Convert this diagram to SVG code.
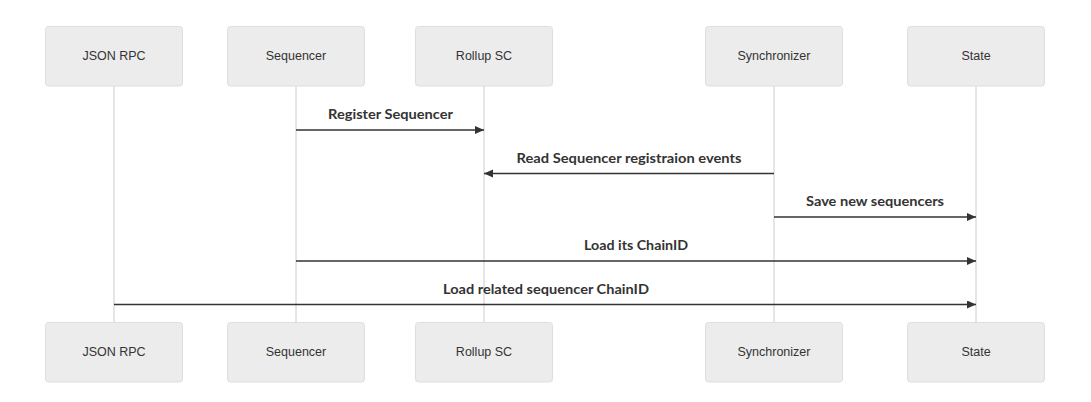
<svg xmlns="http://www.w3.org/2000/svg" width="1091" height="402" viewBox="0 0 1091 402">
<style>
.actor{fill:#ECECEC;stroke:#DEDEDE;stroke-width:1}
.alabel{font-family:"Liberation Sans",Arial,sans-serif;font-size:12.5px;fill:#333;text-anchor:middle;dominant-baseline:central}
.life{stroke:#CCCCCC;stroke-width:1}
.msg{stroke:#333;stroke-width:1.5;fill:none}
.mtext{font-family:Lato,"DejaVu Sans",sans-serif;font-weight:700;font-size:14px;fill:#333;text-anchor:middle}
</style>
<defs>
<marker id="ah" markerUnits="userSpaceOnUse" markerWidth="10" markerHeight="10" refX="9" refY="4" orient="auto">
<path d="M0,0 L9,4 L0,8 z" fill="#333"/>
</marker>
</defs>
<rect width="1091" height="402" fill="#FFFFFF"/>
<g id="lifelines">
<line class="life" x1="114" y1="86" x2="114" y2="322.5"/>
<line class="life" x1="296" y1="86" x2="296" y2="322.5"/>
<line class="life" x1="484" y1="86" x2="484" y2="322.5"/>
<line class="life" x1="774" y1="86" x2="774" y2="322.5"/>
<line class="life" x1="976" y1="86" x2="976" y2="322.5"/>
</g>
<g id="actor-jsonrpc">
<rect class="actor" x="45.5" y="26.5" width="137" height="59.5" rx="3"/>
<text class="alabel" x="114" y="56.3">JSON RPC</text>
<rect class="actor" x="45.5" y="322.5" width="137" height="59.5" rx="3"/>
<text class="alabel" x="114" y="352.3">JSON RPC</text>
</g>
<g id="actor-sequencer">
<rect class="actor" x="227.5" y="26.5" width="137" height="59.5" rx="3"/>
<text class="alabel" x="296" y="56.3">Sequencer</text>
<rect class="actor" x="227.5" y="322.5" width="137" height="59.5" rx="3"/>
<text class="alabel" x="296" y="352.3">Sequencer</text>
</g>
<g id="actor-rollupsc">
<rect class="actor" x="415.5" y="26.5" width="137" height="59.5" rx="3"/>
<text class="alabel" x="484" y="56.3">Rollup SC</text>
<rect class="actor" x="415.5" y="322.5" width="137" height="59.5" rx="3"/>
<text class="alabel" x="484" y="352.3">Rollup SC</text>
</g>
<g id="actor-synchronizer">
<rect class="actor" x="705.5" y="26.5" width="137" height="59.5" rx="3"/>
<text class="alabel" x="774" y="56.3">Synchronizer</text>
<rect class="actor" x="705.5" y="322.5" width="137" height="59.5" rx="3"/>
<text class="alabel" x="774" y="352.3">Synchronizer</text>
</g>
<g id="actor-state">
<rect class="actor" x="907.5" y="26.5" width="137" height="59.5" rx="3"/>
<text class="alabel" x="976" y="56.3">State</text>
<rect class="actor" x="907.5" y="322.5" width="137" height="59.5" rx="3"/>
<text class="alabel" x="976" y="352.3">State</text>
</g>
<g id="connectors">
<line class="msg" x1="296" y1="130" x2="484" y2="130" marker-end="url(#ah)"/>
<text class="mtext" x="390.5" y="119" textLength="125" lengthAdjust="spacingAndGlyphs">Register Sequencer</text>
<line class="msg" x1="774" y1="173.5" x2="484" y2="173.5" marker-end="url(#ah)"/>
<text class="mtext" x="629" y="162.5" textLength="225" lengthAdjust="spacingAndGlyphs">Read Sequencer registraion events</text>
<line class="msg" x1="774" y1="217" x2="976" y2="217" marker-end="url(#ah)"/>
<text class="mtext" x="875" y="206" textLength="138" lengthAdjust="spacingAndGlyphs">Save new sequencers</text>
<line class="msg" x1="296" y1="261" x2="976" y2="261" marker-end="url(#ah)"/>
<text class="mtext" x="636" y="250" textLength="104" lengthAdjust="spacingAndGlyphs">Load its ChainID</text>
<line class="msg" x1="114" y1="304.5" x2="976" y2="304.5" marker-end="url(#ah)"/>
<text class="mtext" x="546" y="293.5" textLength="206" lengthAdjust="spacingAndGlyphs">Load related sequencer ChainID</text>
</g>
</svg>
